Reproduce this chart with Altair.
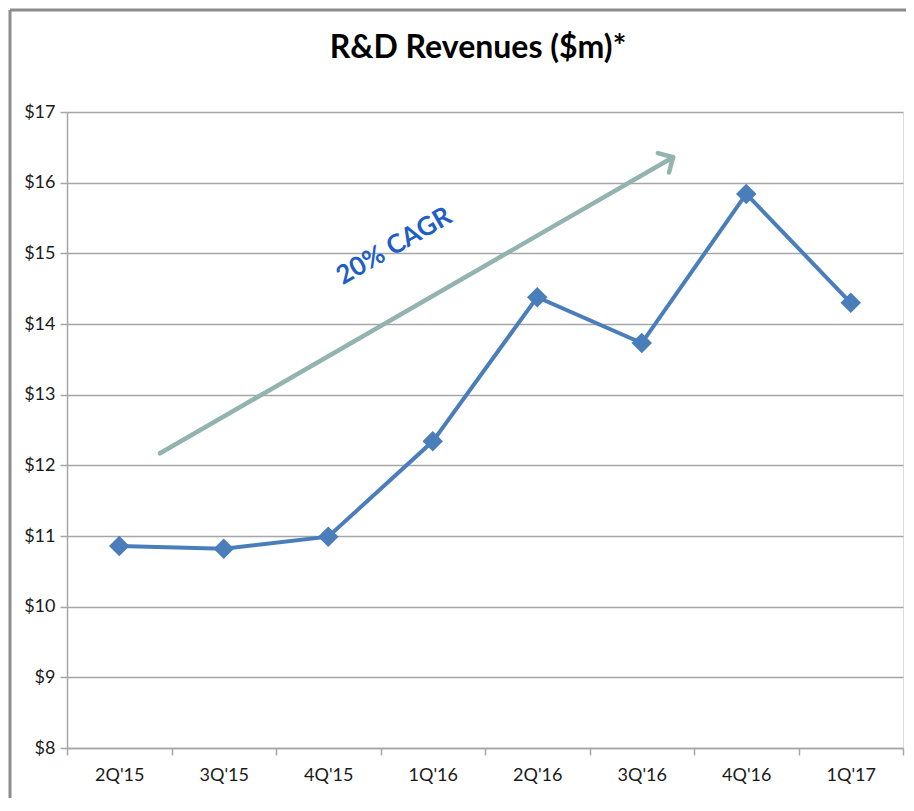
import altair as alt
import pandas as pd

quarters = ["2Q'15", "3Q'15", "4Q'15", "1Q'16", "2Q'16", "3Q'16", "4Q'16", "1Q'17"]
revenues = [10.86, 10.82, 10.99, 12.34, 14.38, 13.73, 15.84, 14.30]

# annotation arrow (category-index units on x, $m on y)
arrow_x = [0.89, 5.80]
arrow_y = [12.17, 16.36]
label_text = ["20% CAGR"]
label_x = [3.13]
label_y = [15.10]
title_text = ["R&D Revenues ($m)*"]

FONT = "Lato"
W, H = 836, 636

df = pd.DataFrame({"quarter": quarters, "revenue": revenues})
arrow_df = pd.DataFrame({"x": arrow_x, "y": arrow_y})
head_df = pd.DataFrame({"x": [arrow_x[-1]], "y": [arrow_y[-1]]})
label_df = pd.DataFrame({"x": label_x, "y": label_y, "t": label_text})
title_df = pd.DataFrame({"t": title_text})

yscale = alt.Scale(domain=[8, 17], nice=False, zero=False)
yaxis = alt.Axis(
    values=list(range(8, 18)),
    labelExpr="'$' + datum.value",
    grid=True, gridColor="#A6A6A6", gridWidth=1.5,
    domainColor="#A6A6A6", domainWidth=1.5,
    tickColor="#A6A6A6", tickSize=7, tickWidth=1.5,
    labelFont=FONT, labelFontSize=18, labelColor="#1a1a1a", labelPadding=5,
    title=None,
)
xenc = alt.X(
    "quarter:N", sort=quarters, bandPosition=0.5,
    scale=alt.Scale(type="band", paddingInner=0, paddingOuter=0),
    axis=alt.Axis(
        tickBand="extent", grid=False, labelAngle=0,
        domainColor="#A6A6A6", domainWidth=1.5,
        tickColor="#A6A6A6", tickSize=7, tickWidth=1.5,
        labelFont=FONT, labelFontSize=18, labelColor="#1a1a1a", labelPadding=11,
        title=None,
    ),
)

line = alt.Chart(df).mark_line(color="#4A7EBB", strokeWidth=4).encode(
    x=xenc, y=alt.Y("revenue:Q", scale=yscale, axis=yaxis)
)
pts = alt.Chart(df).mark_point(
    shape="diamond", filled=True, color="#4A7EBB", size=420, opacity=1
).encode(x=xenc, y=alt.Y("revenue:Q", scale=yscale, axis=yaxis))

base_main = line + pts

xq = alt.X("x:Q", scale=alt.Scale(domain=[0, 8], nice=False, zero=False), axis=None)
arrow = alt.Chart(arrow_df).mark_line(color="#93B3AE", strokeWidth=4.5, strokeCap="round").encode(
    x=xq, y=alt.Y("y:Q", scale=yscale, axis=yaxis)
)
head = alt.Chart(head_df).mark_point(
    shape="M-1,-1L0,0L-1,1", filled=False, stroke="#93B3AE", strokeWidth=4.5,
    size=500, angle=330, opacity=1, strokeCap="round", strokeJoin="round"
).encode(x=xq, y=alt.Y("y:Q", scale=yscale, axis=yaxis))
label = alt.Chart(label_df).mark_text(
    font=FONT, fontSize=26, fontWeight="bold", color="#1F5FC5", angle=330
).encode(x=xq, y=alt.Y("y:Q", scale=yscale, axis=yaxis), text="t:N")

annot = arrow + head + label

title = alt.Chart(title_df).mark_text(
    font=FONT, fontSize=32, fontWeight="bold", color="#000000",
    align="center", baseline="middle"
).encode(x=alt.value(W / 2 - 7), y=alt.value(-64), text="t:N")

frame_left = alt.Chart(title_df).mark_rule(color="#8C8C8C", strokeWidth=3).encode(
    x=alt.value(-57), y=alt.value(-102), y2=alt.value(700)
)
frame_top = alt.Chart(title_df).mark_rule(color="#8C8C8C", strokeWidth=3).encode(
    x=alt.value(-57), x2=alt.value(860), y=alt.value(-102)
)

chart = alt.layer(base_main, annot, title, frame_left, frame_top).resolve_scale(
    x="independent"
).properties(
    width=W, height=H,
    autosize=alt.AutoSizeParams(type="none"),
    padding={"left": 59, "top": 104, "right": 3, "bottom": 50},
).configure_view(strokeWidth=0, stroke="transparent").configure(background="white")

chart.save("out.html", embed_options={"renderer": "svg", "actions": False})
